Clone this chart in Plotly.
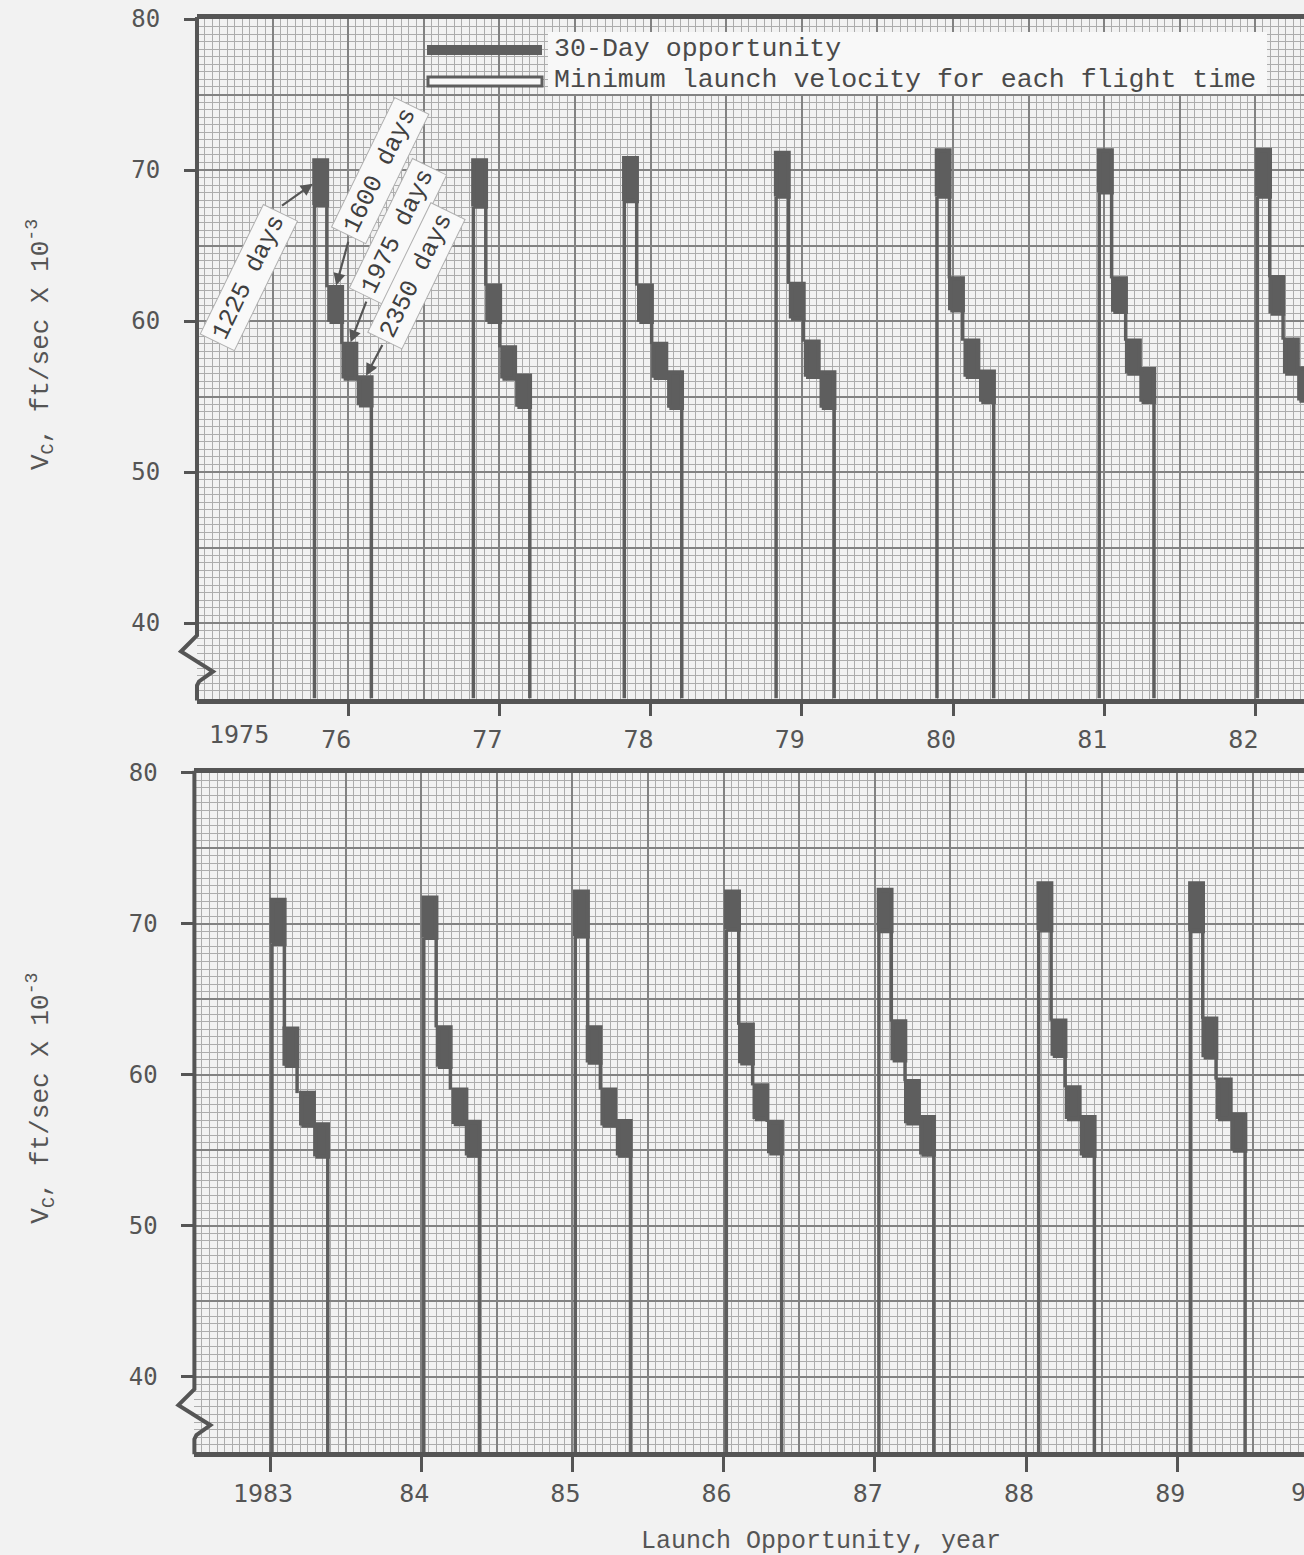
import plotly.graph_objects as go

W, H = 1304, 1555

# ---------------------------------------------------------------- data
FLIGHT_DAYS = [1225, 1600, 1975, 2350]
WINDOW_DAYS = 30          # width of each launch window
V_FLOOR = 35              # broken V axis: everything below is cut away

# 1975-1982 opportunities: window opening date (decimal year) per flight time
OPEN_A = [
    [1975.777, 1975.876, 1975.970, 1976.071],
    [1976.828, 1976.921, 1977.020, 1977.119],
    [1977.826, 1977.925, 1978.020, 1978.124],
    [1978.830, 1978.929, 1979.028, 1979.132],
    [1979.894, 1979.982, 1980.084, 1980.187],
    [1980.967, 1981.060, 1981.152, 1981.247],
    [1982.013, 1982.101, 1982.197, 1982.291],
]
# launch velocity across the 30-day window, ft/sec x 1e-3 (upper / lower)
VHI_A = [
    [70.63, 62.23, 58.47, 56.26],
    [70.63, 62.34, 58.25, 56.37],
    [70.78, 62.34, 58.47, 56.59],
    [71.13, 62.45, 58.63, 56.59],
    [71.29, 62.82, 58.69, 56.64],
    [71.29, 62.82, 58.69, 56.81],
    [71.33, 62.89, 58.76, 56.86],
]
VLO_A = [
    [67.69, 59.95, 56.19, 54.42],
    [67.58, 59.95, 56.19, 54.32],
    [67.95, 59.95, 56.24, 54.25],
    [68.24, 60.17, 56.31, 54.25],
    [68.24, 60.72, 56.31, 54.65],
    [68.53, 60.62, 56.53, 54.65],
    [68.24, 60.50, 56.53, 54.73],
]

# 1983-1989 opportunities
OPEN_B = [
    [1983.013, 1983.097, 1983.207, 1983.300],
    [1984.017, 1984.111, 1984.215, 1984.303],
    [1985.019, 1985.103, 1985.200, 1985.302],
    [1986.018, 1986.110, 1986.206, 1986.302],
    [1987.027, 1987.118, 1987.208, 1987.308],
    [1988.084, 1988.177, 1988.271, 1988.370],
    [1989.087, 1989.175, 1989.270, 1989.367],
]
VHI_B = [
    [71.57, 63.04, 58.78, 56.70],
    [71.72, 63.13, 59.01, 56.87],
    [72.12, 63.13, 59.01, 56.91],
    [72.12, 63.30, 59.29, 56.87],
    [72.23, 63.52, 59.56, 57.18],
    [72.67, 63.57, 59.16, 57.18],
    [72.67, 63.70, 59.67, 57.36],
]
VLO_B = [
    [68.68, 60.60, 56.63, 54.58],
    [69.07, 60.53, 56.74, 54.65],
    [69.19, 60.81, 56.63, 54.65],
    [69.62, 60.75, 57.07, 54.80],
    [69.52, 60.96, 56.78, 54.71],
    [69.56, 61.26, 57.07, 54.65],
    [69.52, 61.15, 57.07, 54.98],
]

TICK_YEARS_A = [1976, 1977, 1978, 1979, 1980, 1981, 1982]
TICK_TEXT_A = ["76", "77", "78", "79", "80", "81", "82"]
FIRST_LABEL_A = "1975"
TICK_YEARS_B = [1983, 1984, 1985, 1986, 1987, 1988, 1989]
TICK_TEXT_B = ["1983", "84", "85", "86", "87", "88", "89"]
NEXT_YEAR_B, NEXT_LABEL_B = 1990, "90"
V_TICKS = [40, 50, 60, 70, 80]

# ---------------------------------------------------------------- style
INK = "#555555"
BLOCK = "#5e5e5e"
PAPER = "#f2f2f2"
GRID_MAJOR = "#828282"
GRID_MINOR = "#acacac"
TICK_FONT = dict(family="DejaVu Sans Mono", size=25, color=INK)
TYPE_FONT = "Liberation Mono"

PX_PER_YEAR = 151.2
PX_PER_V = 15.1
V_RANGE = [V_FLOOR, 80]

# panel placement in pixels: left edge, top edge, first year on the axis
PANEL_A = dict(left=197, top=19, x0=1975.0, ticklen=12, shift=-12, standoff=2)
PANEL_B = dict(left=194.4, top=772.7, x0=1982.5, ticklen=15, shift=-7, standoff=0)


def px_x(px):
    return px / W


def px_y(py):
    return 1 - py / H


def panel_axes(p):
    x1 = p["x0"] + (W - p["left"]) / PX_PER_YEAR
    bottom = p["top"] + (V_RANGE[1] - V_RANGE[0]) * PX_PER_V
    xdom = [px_x(p["left"]), 1.0]
    ydom = [px_y(bottom), px_y(p["top"])]
    return [p["x0"], x1], xdom, ydom, bottom


WIN = WINDOW_DAYS / 365.25


def window_blocks(opens, vhi, vlo):
    xs, ys = [], []
    for o_row, h_row, l_row in zip(opens, vhi, vlo):
        for o, h, l in zip(o_row, h_row, l_row):
            xs += [o, o + WIN, o + WIN, o, o, None]
            ys += [l, l, h, h, l, None]
    return xs, ys


def min_velocity_outline(opens, vhi, vlo):
    """Left leg under the first window, steps between windows, right leg under the last."""
    xs, ys = [], []
    for o_row, h_row, l_row in zip(opens, vhi, vlo):
        xs += [o_row[0], o_row[0], None]
        ys += [V_FLOOR, l_row[0], None]
        for i in range(len(o_row) - 1):
            if h_row[i + 1] < l_row[i]:
                xs += [o_row[i] + WIN, o_row[i] + WIN, None]
                ys += [l_row[i], h_row[i + 1], None]
        xs += [o_row[-1] + WIN, o_row[-1] + WIN, None]
        ys += [l_row[-1], V_FLOOR, None]
    return xs, ys


fig = go.Figure()

panels = [
    (PANEL_A, OPEN_A, VHI_A, VLO_A, "x", "y", "x3", "y3"),
    (PANEL_B, OPEN_B, VHI_B, VLO_B, "x2", "y2", "x4", "y4"),
]

for p, opens, vhi, vlo, xa, ya, xo, yo in panels:
    lx, ly = min_velocity_outline(opens, vhi, vlo)
    fig.add_trace(go.Scatter(x=lx, y=ly, mode="lines", xaxis=xa, yaxis=ya,
                             line=dict(color=BLOCK, width=3.5),
                             showlegend=False, hoverinfo="skip"))
    bx, by = window_blocks(opens, vhi, vlo)
    fig.add_trace(go.Scatter(x=bx, y=by, mode="lines", fill="toself", xaxis=xa, yaxis=ya,
                             fillcolor=BLOCK, line=dict(color=BLOCK, width=4.5),
                             showlegend=False, hoverinfo="skip"))
    # carrier for the labelled overlay axes
    fig.add_trace(go.Scatter(x=[None], y=[None], xaxis=xo, yaxis=yo,
                             showlegend=False, hoverinfo="skip"))

layout_axes = {}
shapes = []
annotations = []

for idx, (p, ticks, texts) in enumerate([
        (PANEL_A, TICK_YEARS_A, TICK_TEXT_A),
        (PANEL_B, TICK_YEARS_B, TICK_TEXT_B)]):
    xr, xdom, ydom, bottom = panel_axes(p)
    gx, gy = ("xaxis", "yaxis") if idx == 0 else ("xaxis2", "yaxis2")
    ox, oy = ("xaxis3", "yaxis3") if idx == 0 else ("xaxis4", "yaxis4")
    gxid, gyid = ("x", "y") if idx == 0 else ("x2", "y2")
    # graph-paper grid: heavy rule every half year / 5 units, fine rule every tenth
    layout_axes[gx] = dict(domain=xdom, range=xr, anchor=gyid, tickmode="linear",
                           tick0=1975, dtick=0.5, showgrid=True, gridcolor=GRID_MAJOR,
                           gridwidth=2, showticklabels=False, ticks="", zeroline=False,
                           showline=False, automargin=False,
                           minor=dict(tick0=1975, dtick=0.05, showgrid=True,
                                      gridcolor=GRID_MINOR, gridwidth=1, ticks=""))
    layout_axes[gy] = dict(domain=ydom, range=V_RANGE, anchor=gxid, tickmode="linear",
                           tick0=0, dtick=5, showgrid=True, gridcolor=GRID_MAJOR,
                           gridwidth=2, showticklabels=False, ticks="", zeroline=False,
                           showline=False, automargin=False,
                           minor=dict(tick0=0, dtick=0.5, showgrid=True,
                                      gridcolor=GRID_MINOR, gridwidth=1, ticks=""))
    # labelled axes drawn over the grid
    layout_axes[ox] = dict(overlaying=gxid, anchor=gyid, range=xr, tickmode="array",
                           tickvals=ticks, ticktext=texts, ticks="outside",
                           ticklen=p["ticklen"], tickwidth=3, tickcolor=INK,
                           tickfont=TICK_FONT, ticklabelshift=p["shift"],
                           ticklabelstandoff=p["standoff"], automargin=False,
                           showgrid=False, zeroline=False, showline=True,
                           linewidth=5, linecolor=INK, mirror=True)
    layout_axes[oy] = dict(overlaying=gyid, anchor=gxid, range=V_RANGE, tickmode="array",
                           tickvals=V_TICKS, ticks="outside", ticklen=12, tickwidth=3,
                           tickcolor=INK, tickfont=dict(TICK_FONT, size=24),
                           ticklabelstandoff=19, showgrid=False, zeroline=False,
                           showline=False, automargin=False)

    # left frame with the axis-break zigzag near the bottom
    lft = p["left"]
    brk = bottom - 63
    pts = [(lft, p["top"] - 2), (lft, brk), (lft - 16, brk + 16), (lft + 16, brk + 36),
           (lft + 2, brk + 46), (lft, brk + 50), (lft, bottom + 2)]
    path = "M " + " L ".join(f"{px_x(a):.5f},{px_y(b):.5f}" for a, b in pts)
    shapes.append(dict(type="path", path=path, xref="paper", yref="paper",
                       line=dict(color=INK, width=4)))

    # y axis title
    annotations.append(dict(text="V<sub>C</sub>, ft/sec X 10<sup>-3</sup>",
                            xref="paper", yref="paper", x=px_x(40),
                            y=px_y(p["top"] + 326), xanchor="center", yanchor="middle",
                            textangle=-90, showarrow=False,
                            font=dict(family=TYPE_FONT, size=26, color=INK)))

# first label of the top axis sits against the frame
annotations.append(dict(text=FIRST_LABEL_A, xref="x", yref="paper", x=PANEL_A["x0"],
                        y=px_y(735), xanchor="left", yanchor="middle", xshift=10,
                        showarrow=False, font=TICK_FONT))
# label of the next year, running off the right edge
xr_b, xdom_b, _, bottom_b = panel_axes(PANEL_B)
frac = (NEXT_YEAR_B - xr_b[0]) / (xr_b[1] - xr_b[0])
annotations.append(dict(text=NEXT_LABEL_B, xref="paper", yref="paper",
                        x=xdom_b[0] + frac * (xdom_b[1] - xdom_b[0]) - px_x(22),
                        y=px_y(1492), xanchor="center", yanchor="middle",
                        showarrow=False, font=TICK_FONT))

annotations.append(dict(text="Launch Opportunity, year", xref="paper", yref="paper",
                        x=px_x(821), y=px_y(1541), xanchor="center", yanchor="middle",
                        showarrow=False, font=dict(family=TYPE_FONT, size=25, color=INK)))

# legend drawn onto the paper
shapes.append(dict(type="rect", xref="paper", yref="paper",
                   x0=px_x(548), x1=px_x(1267), y0=px_y(94), y1=px_y(32),
                   fillcolor="#f8f8f8", line=dict(width=0)))
shapes.append(dict(type="rect", xref="paper", yref="paper",
                   x0=px_x(427), x1=px_x(542), y0=px_y(55), y1=px_y(45),
                   fillcolor=BLOCK, line=dict(width=0)))
shapes.append(dict(type="rect", xref="paper", yref="paper",
                   x0=px_x(428), x1=px_x(542), y0=px_y(86), y1=px_y(77),
                   fillcolor="#f8f8f8", line=dict(color=BLOCK, width=3)))
for txt, yy in [("30-Day opportunity", 49), ("Minimum launch velocity for each flight time", 80)]:
    annotations.append(dict(text=txt, xref="paper", yref="paper", x=px_x(552), y=px_y(yy),
                            xanchor="left", yanchor="middle", showarrow=False,
                            font=dict(family=TYPE_FONT, size=26.6, color="#4a4a4a")))

# flight-time callouts on the first opportunity
first_open, first_hi, first_lo = OPEN_A[0], VHI_A[0], VLO_A[0]
label_pos = [(1975.342, 62.9), (1976.210, 70.0), (1976.331, 65.9), (1976.453, 63.0)]
for days, (lx, ly) in zip(FLIGHT_DAYS, label_pos):
    annotations.append(dict(text=f"{days} days", x=lx, y=ly, xref="x", yref="y",
                            xanchor="center", yanchor="middle",
                            showarrow=False, textangle=-64, bgcolor="#f9f9f9",
                            bordercolor="#b0b0b0", borderwidth=1, borderpad=4,
                            font=dict(family=TYPE_FONT, size=25, color="#3f3f3f")))
arrow_tails = [(-34, 24), (13, -47), (17, -44), (18, -34)]
for i, (axp, ayp) in enumerate(arrow_tails):
    if i == 0:
        tx, ty = first_open[0], (first_hi[0] + first_lo[0]) / 2
    else:
        tx, ty = first_open[i] + WIN / 2, first_hi[i]
    annotations.append(dict(text="", x=tx, y=ty, xref="x", yref="y", ax=axp, ay=ayp,
                            showarrow=True, arrowhead=2, arrowsize=1.1, arrowwidth=2.2,
                            arrowcolor=INK, standoff=2))

fig.update_layout(
    width=W, height=H, margin=dict(l=0, r=0, t=0, b=0, autoexpand=False),
    paper_bgcolor=PAPER, plot_bgcolor=PAPER, showlegend=False,
    shapes=shapes, annotations=annotations, **layout_axes,
)

fig.write_html("out.html")
